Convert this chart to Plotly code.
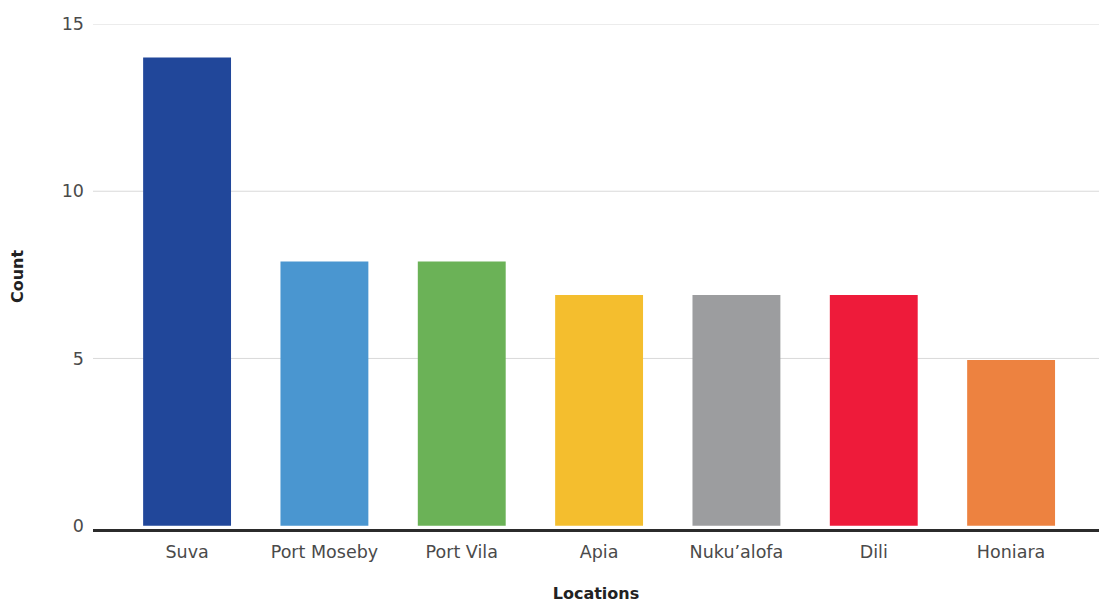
import plotly.graph_objects as go

locations = ["Suva", "Port Moseby", "Port Vila", "Apia", "Nuku\u2019alofa", "Dili", "Honiara"]
counts = [14, 7.9, 7.9, 6.9, 6.9, 6.9, 4.95]
colors = ["#21479A", "#4A96D0", "#6BB257", "#F4BE2E", "#9C9D9F", "#EE1B3A", "#ED8240"]
y_ticks = [0, 5, 10, 15]

font_family = "'DejaVu Sans', sans-serif"

fig = go.Figure(go.Bar(
    x=list(range(len(locations))),
    y=counts,
    marker=dict(color=colors, line=dict(width=0)),
    width=0.64,
))

# horizontal gridlines (no line at zero, the axis line sits there)
for t in y_ticks:
    if t > 0:
        fig.add_shape(type="line", xref="paper", x0=0, x1=1, yref="y", y0=t, y1=t,
                      line=dict(color="#d9d9d9", width=1), layer="below")

fig.update_layout(
    width=1099, height=607,
    margin=dict(l=93, r=0, t=24, b=78),
    paper_bgcolor="white", plot_bgcolor="white",
    showlegend=False,
    font=dict(family=font_family, color="#444444", size=17),
    xaxis=dict(
        range=[-0.685, 6.64],
        tickmode="array",
        tickvals=list(range(len(locations))),
        ticktext=locations,
        showgrid=False, zeroline=False,
        showline=True, linecolor="#2b2b2b", linewidth=2.5,
        ticks="outside", ticklen=5, tickcolor="rgba(0,0,0,0)",
        tickfont=dict(size=17.5, color="#4a4a4a", family=font_family),
        title=dict(text="<b>Locations</b>", font=dict(size=16, color="#222222", family=font_family), standoff=28),
    ),
    yaxis=dict(
        range=[-0.1, 15],
        tickmode="array", tickvals=y_ticks,
        showgrid=False,
        zeroline=False, showline=False,
        ticks="", ticklabelstandoff=8,
        tickfont=dict(size=17.5, color="#4a4a4a", family=font_family),
        title=dict(text="<b>Count</b>", font=dict(size=16, color="#222222", family=font_family), standoff=34),
    ),
)

fig.write_html("out.html")
